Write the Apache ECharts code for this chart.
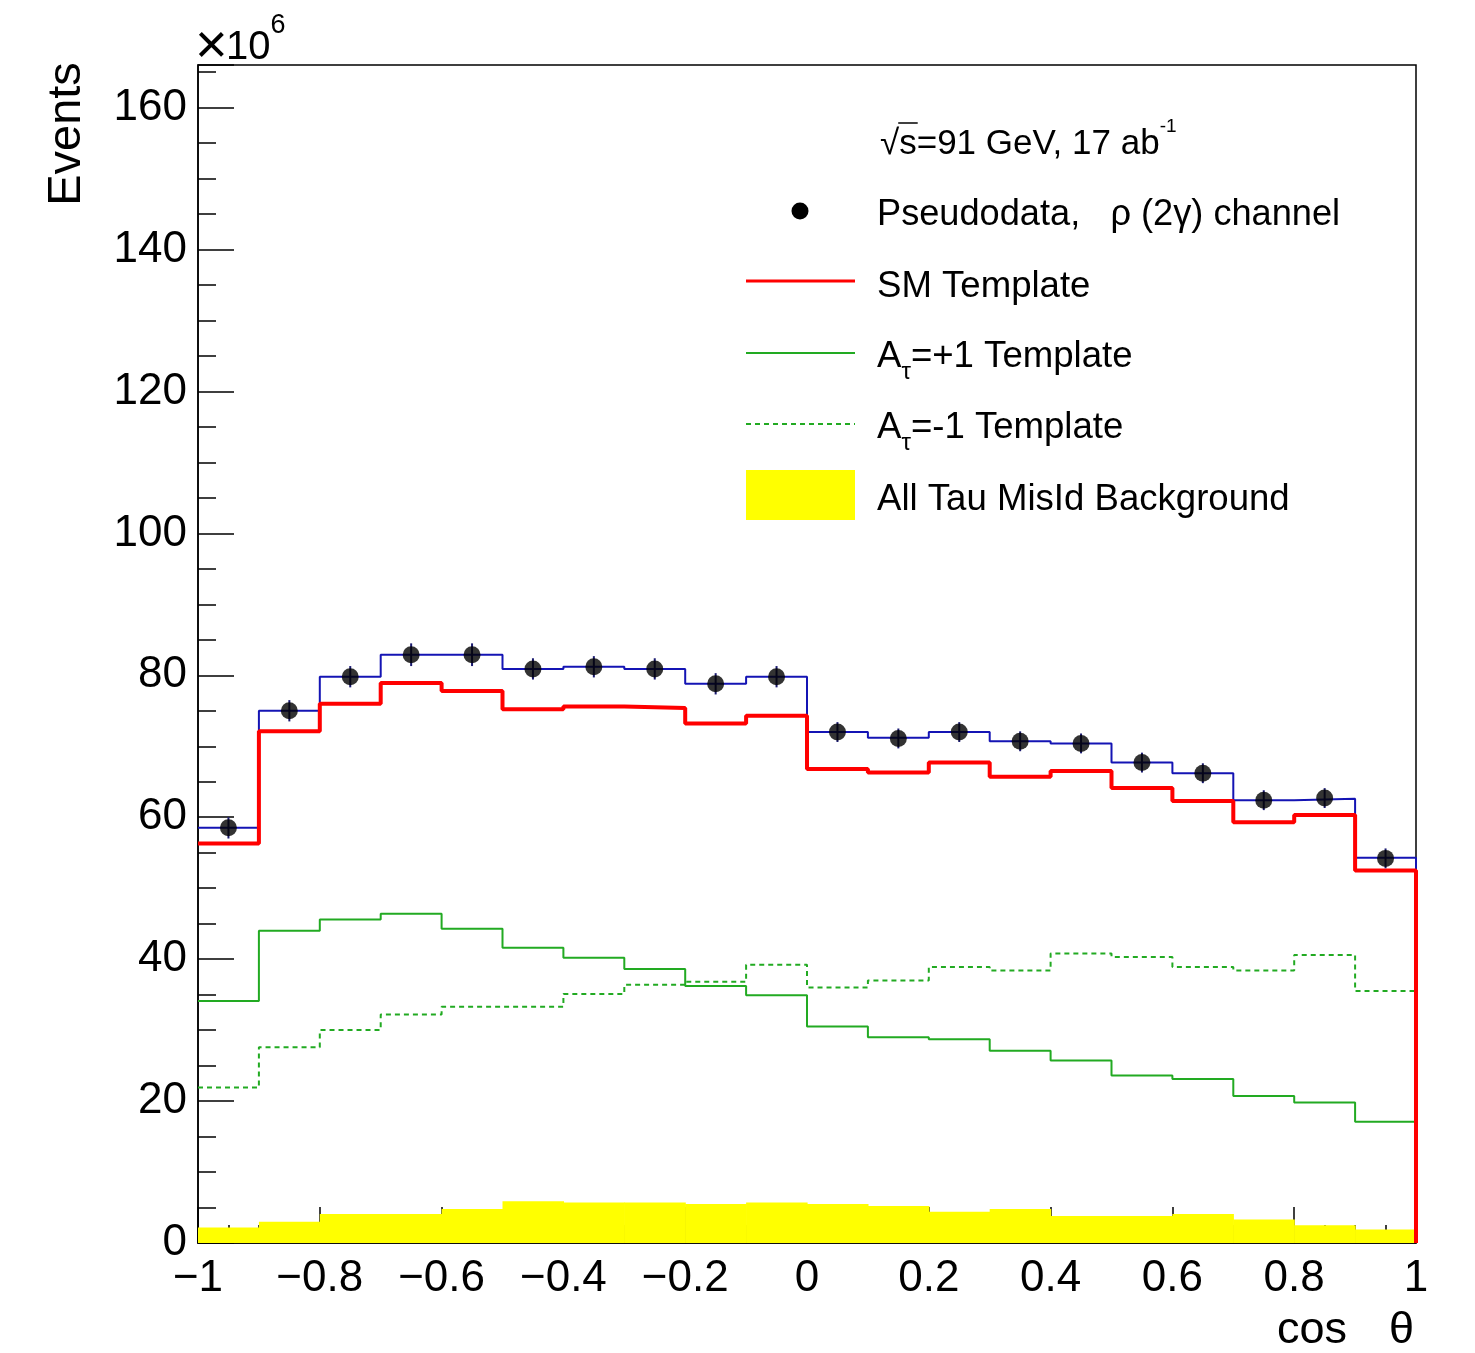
<!DOCTYPE html>
<html>
<head>
<meta charset="utf-8">
<script src="https://cdn.jsdelivr.net/npm/echarts@6.0.0/dist/echarts.min.js"></script>
<style>
html,body{margin:0;padding:0;background:#fff;}
#chart{width:1475px;height:1353px;}
</style>
</head>
<body>
<div id="chart"></div>
<script>
// ---- data (units: 10^6 events) ----
const binEdges = [-1.0,-0.9,-0.8,-0.7,-0.6,-0.5,-0.4,-0.3,-0.2,-0.1,0.0,0.1,0.2,0.3,0.4,0.5,0.6,0.7,0.8,0.9,1.0];
const pseudoData     = [58.5,75.0,79.8,82.9,82.9,80.9,81.2,80.9,78.8,79.8,72.0,71.1,72.0,70.7,70.4,67.7,66.2,62.4,62.7,54.2];
const pseudoErr      = [1.5,1.5,1.5,1.6,1.6,1.5,1.5,1.5,1.5,1.5,1.4,1.4,1.4,1.4,1.4,1.4,1.4,1.4,1.4,1.4];
const totalHist      = [58.5,75.0,79.8,82.9,82.9,80.9,81.2,80.9,78.8,79.8,72.0,71.2,72.0,70.7,70.4,67.7,66.2,62.4,62.6,54.3];
const smTemplate     = [56.3,72.1,76.0,78.9,77.8,75.2,75.6,75.4,73.2,74.3,66.8,66.3,67.7,65.7,66.5,64.1,62.3,59.3,60.3,52.5];
const aPlusTemplate  = [34.1,44.0,45.6,46.4,44.3,41.6,40.2,38.6,36.2,34.9,30.5,29.0,28.7,27.1,25.7,23.6,23.1,20.7,19.8,17.1];
const aMinusTemplate = [21.9,27.6,30.0,32.2,33.3,33.3,35.1,36.4,36.8,39.2,36.0,37.0,38.9,38.4,40.8,40.3,38.9,38.4,40.6,35.5];
const misIdBackground= [2.2,3.0,4.1,4.1,4.8,5.9,5.7,5.7,5.5,5.7,5.5,5.2,4.4,4.8,3.8,3.8,4.1,3.3,2.5,1.9];

const FONT = '"Liberation Sans", Arial, Helvetica, sans-serif';
const BLUE = '#1414b4';
const GREEN = '#22aa22';

// ---- helpers building library data from the arrays ----
function stepData(vals) {
  const d = vals.map((v, i) => [binEdges[i], v]);
  d.push([binEdges[binEdges.length - 1], vals[vals.length - 1]]);
  d.push([binEdges[binEdges.length - 1], 0]);
  return d;
}
const centers = pseudoData.map((_, i) => (binEdges[i] + binEdges[i + 1]) / 2);

const ctx = document.createElement('canvas').getContext('2d');
function tw(t, size) { ctx.font = size + 'px ' + FONT; return ctx.measureText(t).width; }
function seq(x, y, parts) {
  const out = [];
  let cx = x;
  parts.forEach(p => {
    out.push({type:'text', z:100, style:{text:p[0], x:cx, y:y + (p[2] || 0), font:p[1] + 'px ' + FONT, fill:'#000', textAlign:'left', textVerticalAlign:'middle'}});
    cx += tw(p[0], p[1]);
  });
  return {els: out, end: cx};
}

const chart = echarts.init(document.getElementById('chart'), null, {renderer:'canvas'});

// legend / annotations
const graphics = [];
const LX = 877;
const LF = 36.6;
// header
(function(){
  const y = 144;
  const x0 = 880;
  const r = seq(x0, y, [['√',35],['s',35]]);
  const sqrtW = tw('√', 35);
  graphics.push(...r.els);
  graphics.push({type:'line', z:100, shape:{x1:x0 + sqrtW - 1, y1:123, x2:r.end + 1, y2:123}, style:{stroke:'#000', lineWidth:1.5}});
  const r2 = seq(r.end, y, [['=91 GeV, 17 ab',35],['-1',19,-17]]);
  graphics.push(...r2.els);
})();
// pseudodata
graphics.push({type:'circle', z:100, shape:{cx:800, cy:211, r:8.5}, style:{fill:'#000'}});
graphics.push(...seq(LX, 215, [['Pseudodata,   ρ (2γ) channel',36.2]]).els);
// SM
graphics.push({type:'line', z:100, shape:{x1:746, y1:281, x2:855, y2:281}, style:{stroke:'#ff0000', lineWidth:3}});
graphics.push(...seq(LX, 287, [['SM Template',LF]]).els);
// A+1
graphics.push({type:'line', z:100, shape:{x1:746, y1:353, x2:855, y2:353}, style:{stroke:GREEN, lineWidth:2}});
graphics.push(...seq(LX, 357, [['A',LF],['τ',24,15],['=+1 Template',LF]]).els);
// A-1
graphics.push({type:'line', z:100, shape:{x1:746, y1:424, x2:855, y2:424}, style:{stroke:GREEN, lineWidth:2, lineDash:[5,4]}});
graphics.push(...seq(LX, 428, [['A',LF],['τ',24,15],['=-1 Template',LF]]).els);
// background
graphics.push({type:'rect', z:100, shape:{x:746, y:470, width:109, height:50}, style:{fill:'#ffff00'}});
graphics.push(...seq(LX, 500, [['All Tau MisId Background',LF]]).els);
// x10^6
graphics.push({type:'text', z:100, style:{text:'×', x:195, y:48, font:'56px ' + FONT, fill:'#000', textAlign:'left', textVerticalAlign:'middle'}});
graphics.push(...seq(226, 48, [['10',40],['6',27,-22]]).els);
// axis titles
graphics.push({type:'text', z:100, rotation:Math.PI/2, x:67, y:134, style:{text:'Events', font:'47px ' + FONT, fill:'#000', textAlign:'center', textVerticalAlign:'middle'}});
graphics.push({type:'text', z:100, style:{text:'cos', x:1277, y:1331, font:'45px ' + FONT, fill:'#000', textAlign:'left', textVerticalAlign:'middle'}});
graphics.push({type:'text', z:100, style:{text:'θ', x:1414, y:1331, font:'45px ' + FONT, fill:'#000', textAlign:'right', textVerticalAlign:'middle'}});

const option = {
  animation:false,
  backgroundColor:'#fff',
  grid:{left:198, right:59, top:65, bottom:110, show:true, borderColor:'#000', borderWidth:1.5, backgroundColor:'transparent', outerBoundsMode:'none', containLabel:false},
  xAxis:[
    {type:'value', position:'bottom', min:-1, max:1, interval:0.2, splitLine:{show:false},
     axisLine:{onZero:false, lineStyle:{color:'#000', width:1.5}},
     axisTick:{inside:true, length:36, lineStyle:{color:'#000', width:1.5}},
     axisLabel:{margin:14, fontSize:44, fontFamily:FONT, color:'#000', showMinLabel:true, showMaxLabel:true,
       formatter:v => { const r = Math.round(v*10)/10; return String(r).replace('-', '\u2212'); }}},
    {type:'value', position:'bottom', min:-1, max:1, interval:0.05, splitLine:{show:false},
     axisLine:{show:false, onZero:false},
     axisTick:{inside:true, length:18, lineStyle:{color:'#000', width:1.5}},
     axisLabel:{show:false}}
  ],
  yAxis:[
    {type:'value', position:'left', min:0, max:166, interval:20, splitLine:{show:false},
     axisLine:{onZero:false, lineStyle:{color:'#000', width:1.5}},
     axisTick:{inside:true, length:36, lineStyle:{color:'#000', width:1.5}},
     axisLabel:{margin:11, fontSize:44, fontFamily:FONT, color:'#000',
       formatter:v => (Math.abs(v % 20) < 1e-6 ? String(v) : '')}},
    {type:'value', position:'left', min:0, max:166, interval:5, splitLine:{show:false},
     axisLine:{show:false, onZero:false},
     axisTick:{inside:true, length:18, lineStyle:{color:'#000', width:1.5}},
     axisLabel:{show:false}}
  ],
  graphic: graphics,
  series:[
    {name:'All Tau MisId Background', type:'custom', z:1, silent:true,
     data: misIdBackground.map((v,i) => [binEdges[i], binEdges[i+1], v]),
     encode:{x:[0,1], y:2},
     renderItem:(params, api) => {
       const p1 = api.coord([api.value(0), api.value(2)]);
       const p2 = api.coord([api.value(1), 0]);
       return {type:'rect', shape:{x:p1[0], y:p1[1], width:p2[0]-p1[0]+0.6, height:p2[1]-p1[1]}, style:{fill:'#ffff00'}};
     }},
    {name:'At=+1', type:'line', z:2, step:'end', showSymbol:false, clip:false, data:stepData(aPlusTemplate),
     lineStyle:{color:GREEN, width:2}, itemStyle:{color:GREEN}},
    {name:'At=-1', type:'line', z:2, step:'end', showSymbol:false, clip:false, data:stepData(aMinusTemplate),
     lineStyle:{color:GREEN, width:2, type:[5,4]}, itemStyle:{color:GREEN}},
    {name:'Total', type:'line', z:3, step:'end', showSymbol:false, clip:false, data:stepData(totalHist),
     lineStyle:{color:BLUE, width:2}, itemStyle:{color:BLUE}},
    {name:'SM Template', type:'line', z:4, step:'end', showSymbol:false, clip:false, data:stepData(smTemplate),
     lineStyle:{color:'#ff0000', width:4}, itemStyle:{color:'#ff0000'}},
    {name:'errors', type:'custom', z:5, silent:true,
     data: centers.map((c,i) => [c, pseudoData[i]-pseudoErr[i], pseudoData[i]+pseudoErr[i]]),
     encode:{x:0, y:[1,2]},
     renderItem:(params, api) => {
       const a = api.coord([api.value(0), api.value(1)]);
       const b = api.coord([api.value(0), api.value(2)]);
       return {type:'line', shape:{x1:a[0], y1:a[1], x2:b[0], y2:b[1]}, style:{stroke:'#1a1a70', lineWidth:2}};
     }},
    {name:'Pseudodata', type:'scatter', z:6, symbol:'circle', symbolSize:17,
     data: centers.map((c,i) => [c, pseudoData[i]]), itemStyle:{color:'#000'}}
  ]
};
chart.setOption(option);
</script>
</body>
</html>
